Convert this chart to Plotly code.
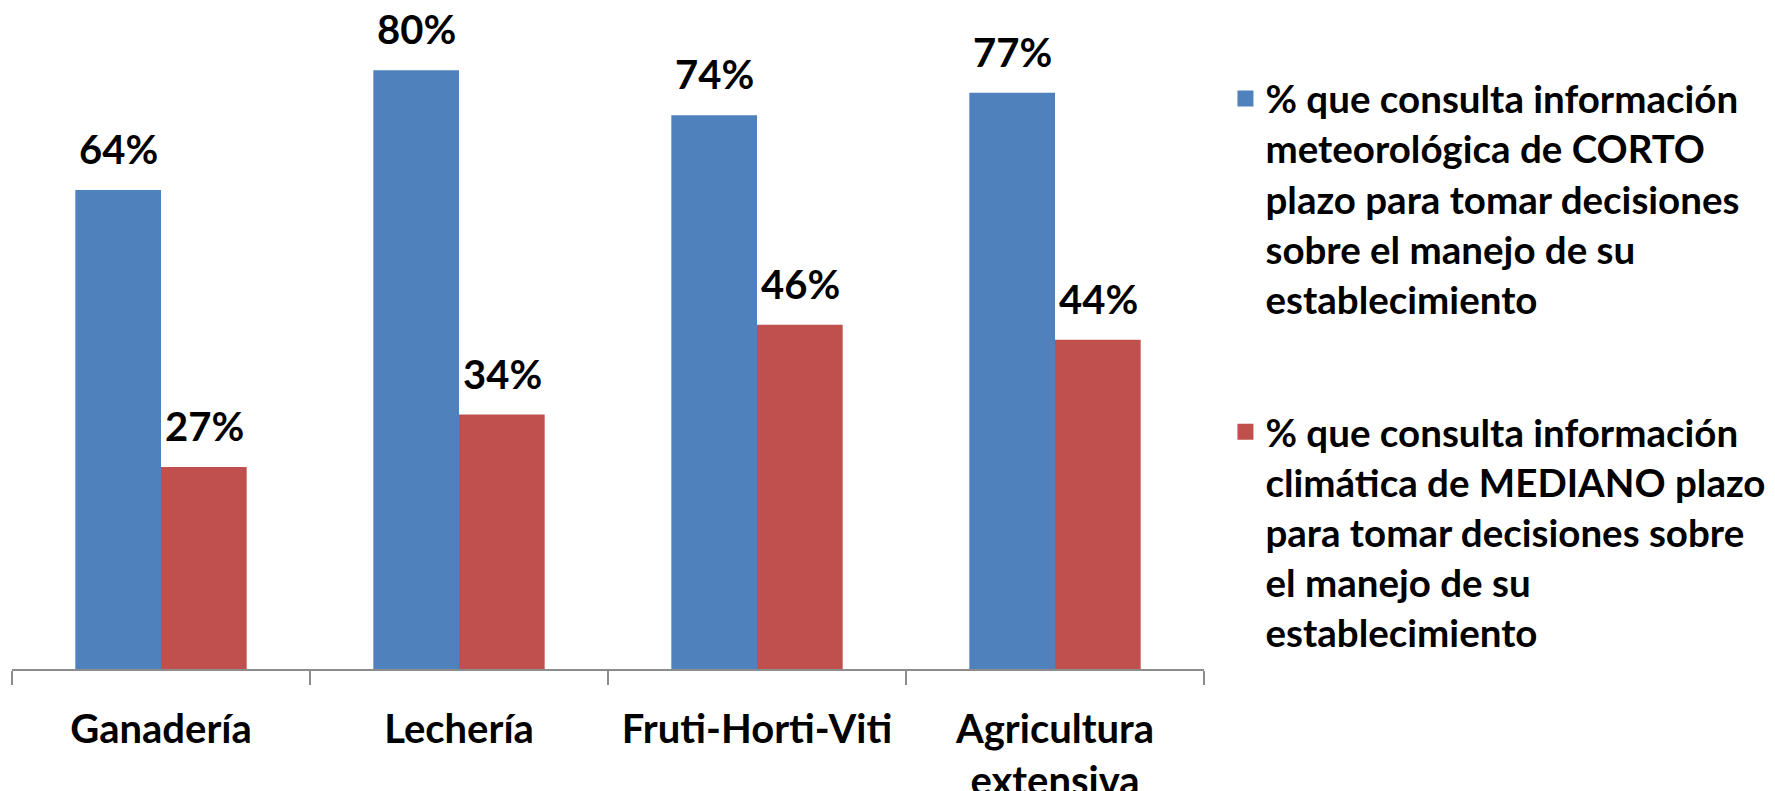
import plotly.graph_objects as go

categories = ["Ganadería", "Lechería", "Fruti-Horti-Viti", "Agricultura<br>extensiva"]
corto = [64, 80, 74, 77]
mediano = [27, 34, 46, 44]
series_names = [
    "% que consulta información<br>meteorológica de CORTO<br>plazo para tomar decisiones<br>sobre el manejo de su<br>establecimiento",
    "% que consulta información<br>climática de MEDIANO plazo<br>para tomar decisiones sobre<br>el manejo de su<br>establecimiento",
]
colors = ["#4F81BD", "#C0504D"]

FONT = "Lato"
fig = go.Figure()
for vals, name, col, grp in [(corto, series_names[0], colors[0], "a"), (mediano, series_names[1], colors[1], "b")]:
    fig.add_trace(go.Bar(x=categories, y=vals, name=name, marker=dict(color=col, line=dict(width=0)),
                         legendgroup=grp, showlegend=False, hoverinfo="skip"))
    # legend entry with a larger square symbol
    fig.add_trace(go.Scatter(x=[None], y=[None], mode="markers", name=name, legendgroup=grp,
                             marker=dict(symbol="square", size=24, color=col), hoverinfo="skip"))

annotations = []
for vals, shift in [(corto, -43), (mediano, 43)]:
    for c, v in zip(categories, vals):
        annotations.append(dict(x=c, y=v, text=f"{v}%", showarrow=False, xref="x", yref="y",
                                yanchor="bottom", xshift=shift, yshift=15,
                                font=dict(family=FONT, size=40, color="black", weight="bold")))

fig.update_layout(
    width=1775, height=791,
    margin=dict(l=12, r=571, t=0, b=122, autoexpand=False),
    paper_bgcolor="white", plot_bgcolor="white",
    barmode="group", bargap=0.425, bargroupgap=0,
    font=dict(family=FONT, size=38, color="black", weight="bold"),
    showlegend=True,
    legend=dict(x=1.018, xanchor="left", y=0.9, yanchor="top", valign="top",
                tracegroupgap=80, traceorder="grouped",
                font=dict(family=FONT, size=38.5, color="black", weight="bold"),
                bgcolor="rgba(0,0,0,0)"),
    annotations=annotations,
)
fig.update_xaxes(showline=True, linecolor="#8c8c8c", linewidth=1.5, ticks="outside", tickson="boundaries",
                 ticklen=14, tickcolor="#8c8c8c", tickwidth=1.5, showgrid=False, ticklabelstandoff=24,
                 automargin=False,
                 tickfont=dict(family=FONT, size=40, color="black", weight="bold"))
fig.update_yaxes(range=[0, 89.4], visible=False, showgrid=False, zeroline=False, automargin=False)

fig.write_html("out.html", post_script="document.body.style.margin='0px';",
               config={"displayModeBar": False})
